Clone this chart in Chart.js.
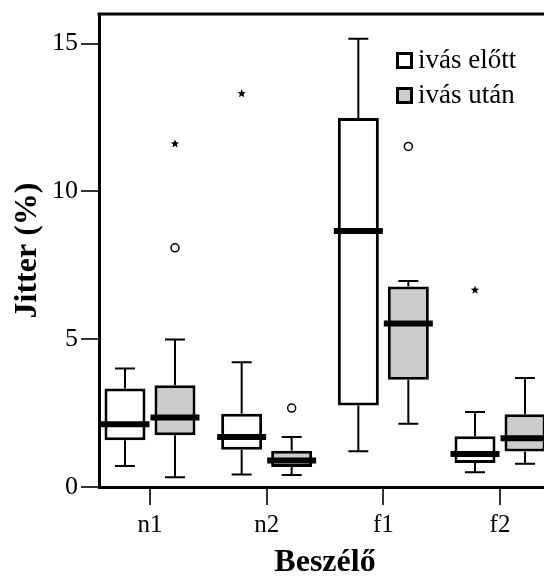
<!DOCTYPE html>
<html lang="hu">
<head>
    <meta charset="UTF-8">
    <title>Jitter ivás előtt és után</title>
    <script src="https://cdn.jsdelivr.net/npm/chart.js"></script>
    <style>
        body {
            margin: 0;
            overflow: hidden;
            background: #fff;
        }
        #wrap {
            width: 556px;
            height: 577px;
        }
    </style>
</head>
<body>
    <div id="wrap"><canvas id="myChart" width="556" height="577"></canvas></div>

    <script>
        const categories = ['n1', 'n2', 'f1', 'f2'];
        const seriesNames = ['ivás előtt', 'ivás után'];
        const yTicks = [0, 5, 10, 15];

        // ivás előtt
        const beforeLow = [0.71, 0.42, 1.21, 0.50];
        const beforeQ1 = [1.58, 1.26, 2.76, 0.81];
        const beforeMedian = [2.12, 1.69, 8.66, 1.12];
        const beforeQ3 = [3.33, 2.48, 12.48, 1.72];
        const beforeHigh = [4.01, 4.22, 15.16, 2.54];
        const beforeOutliers = [[], [], [], []];
        const beforeExtremes = [[], [13.31], [], [6.66]];

        // ivás után
        const afterLow = [0.33, 0.41, 2.14, 0.79];
        const afterQ1 = [1.75, 0.68, 3.63, 1.20];
        const afterMedian = [2.35, 0.90, 5.53, 1.65];
        const afterQ3 = [3.44, 1.23, 6.78, 2.46];
        const afterHigh = [4.99, 1.69, 6.97, 3.69];
        const afterOutliers = [[8.09], [2.67], [11.52], []];
        const afterExtremes = [[11.61], [], [], []];

        const series = [
            { low: beforeLow, q1: beforeQ1, median: beforeMedian, q3: beforeQ3, high: beforeHigh, outliers: beforeOutliers, extremes: beforeExtremes, fill: '#ffffff' },
            { low: afterLow, q1: afterQ1, median: afterMedian, q3: afterQ3, high: afterHigh, outliers: afterOutliers, extremes: afterExtremes, fill: '#cccccc' }
        ];

        const serif = "'Liberation Serif', 'Times New Roman', serif";

        function drawStar(ctx, x, y, r) {
            ctx.beginPath();
            for (let k = 0; k < 10; k++) {
                const rad = k % 2 === 0 ? r : r * 0.42;
                const a = -Math.PI / 2 + k * Math.PI / 5;
                const px = x + rad * Math.cos(a);
                const py = y + rad * Math.sin(a);
                if (k === 0) ctx.moveTo(px, py); else ctx.lineTo(px, py);
            }
            ctx.closePath();
            ctx.fill();
        }

        const boxParts = {
            id: 'boxParts',
            afterDatasetsDraw(chart) {
                const ctx = chart.ctx;
                const y = chart.scales.y;
                const area = chart.chartArea;
                ctx.save();
                series.forEach((s, di) => {
                    const meta = chart.getDatasetMeta(di);
                    meta.data.forEach((bar, i) => {
                        const cx = bar.x;
                        const half = bar.width / 2;
                        const yHigh = y.getPixelForValue(s.high[i]);
                        const yLow = y.getPixelForValue(s.low[i]);

                        // whiskers
                        ctx.strokeStyle = '#000';
                        ctx.lineWidth = 2;
                        ctx.beginPath();
                        ctx.moveTo(cx, y.getPixelForValue(s.q3[i]));
                        ctx.lineTo(cx, yHigh);
                        ctx.moveTo(cx, y.getPixelForValue(s.q1[i]));
                        ctx.lineTo(cx, yLow);
                        ctx.moveTo(cx - 10, yHigh);
                        ctx.lineTo(cx + 10, yHigh);
                        ctx.moveTo(cx - 10, yLow);
                        ctx.lineTo(cx + 10, yLow);
                        ctx.stroke();

                        // median
                        const ym = y.getPixelForValue(s.median[i]);
                        ctx.lineWidth = 6;
                        ctx.beginPath();
                        ctx.moveTo(cx - half - 4, ym);
                        ctx.lineTo(cx + half + 4, ym);
                        ctx.stroke();

                        // outliers
                        ctx.lineWidth = 1.5;
                        s.outliers[i].forEach(v => {
                            ctx.beginPath();
                            ctx.arc(cx, y.getPixelForValue(v), 4, 0, Math.PI * 2);
                            ctx.fillStyle = '#fff';
                            ctx.fill();
                            ctx.stroke();
                        });
                        ctx.fillStyle = '#000';
                        s.extremes[i].forEach(v => drawStar(ctx, cx, y.getPixelForValue(v), 4.5));
                    });
                });

                // top frame line
                ctx.strokeStyle = '#000';
                ctx.lineWidth = 3;
                ctx.beginPath();
                ctx.moveTo(area.left - 1.5, area.top);
                ctx.lineTo(area.right + 2, area.top);
                ctx.stroke();
                ctx.restore();
            },
            afterDraw(chart) {
                const ctx = chart.ctx;
                ctx.save();
                ctx.font = '27px ' + serif;
                ctx.textBaseline = 'middle';
                seriesNames.forEach((name, i) => {
                    const top = 52 + i * 35;
                    ctx.fillStyle = series[i].fill;
                    ctx.fillRect(396, top, 17, 17);
                    ctx.strokeStyle = '#000';
                    ctx.lineWidth = 3;
                    ctx.strokeRect(397.5, top + 1.5, 14, 14);
                    ctx.fillStyle = '#000';
                    ctx.fillText(name, 418, top + 9);
                });
                ctx.restore();
            }
        };

        const ctx = document.getElementById('myChart').getContext('2d');
        new Chart(ctx, {
            type: 'bar',
            data: {
                datasets: series.map((s, di) => ({
                    label: seriesNames[di],
                    data: categories.map((c, i) => ({ x: i + 1, y: [s.q1[i], s.q3[i]] })),
                    backgroundColor: s.fill,
                    borderColor: '#000',
                    borderWidth: 3,
                    borderSkipped: false,
                    categoryPercentage: 0.857,
                    barPercentage: 0.82
                }))
            },
            options: {
                responsive: false,
                animation: false,
                layout: {
                    padding: { top: 14, right: 5, bottom: 0, left: 0 }
                },
                plugins: {
                    legend: { display: false },
                    tooltip: { enabled: false }
                },
                scales: {
                    x: {
                        type: 'linear',
                        offset: false,
                        min: 0.563,
                        max: 4.437,
                        afterBuildTicks: scale => {
                            scale.ticks = categories.map((c, i) => ({ value: i + 1 }));
                        },
                        afterFit: scale => {
                            scale.height = 90;
                            scale.paddingLeft = 0;
                            scale.paddingRight = 0;
                        },
                        ticks: {
                            callback: (v) => categories[v - 1],
                            color: '#000',
                            font: { family: serif, size: 25 },
                            padding: 5,
                            maxRotation: 0
                        },
                        grid: {
                            offset: false,
                            drawOnChartArea: false,
                            tickLength: 18,
                            lineWidth: 2,
                            color: '#333'
                        },
                        border: { display: true, color: '#000', width: 3 },
                        title: {
                            display: true,
                            text: 'Beszélő',
                            color: '#000',
                            font: { family: serif, size: 32, weight: 'bold' },
                            padding: { top: 0, bottom: -5 }
                        }
                    },
                    y: {
                        min: 0,
                        max: 16,
                        afterBuildTicks: scale => {
                            scale.ticks = yTicks.map(v => ({ value: v }));
                        },
                        afterFit: scale => {
                            scale.width = 99;
                            scale.paddingTop = 0;
                            scale.paddingBottom = 0;
                        },
                        ticks: {
                            color: '#000',
                            font: { family: serif, size: 26 },
                            padding: 3
                        },
                        grid: {
                            drawOnChartArea: false,
                            tickLength: 18,
                            lineWidth: 2,
                            color: '#333'
                        },
                        border: { display: true, color: '#000', width: 3 },
                        title: {
                            display: true,
                            text: 'Jitter (%)',
                            color: '#000',
                            font: { family: serif, size: 32, weight: 'bold' },
                            padding: { top: 9, bottom: 0 }
                        }
                    }
                }
            },
            plugins: [boxParts]
        });
    </script>
</body>
</html>
